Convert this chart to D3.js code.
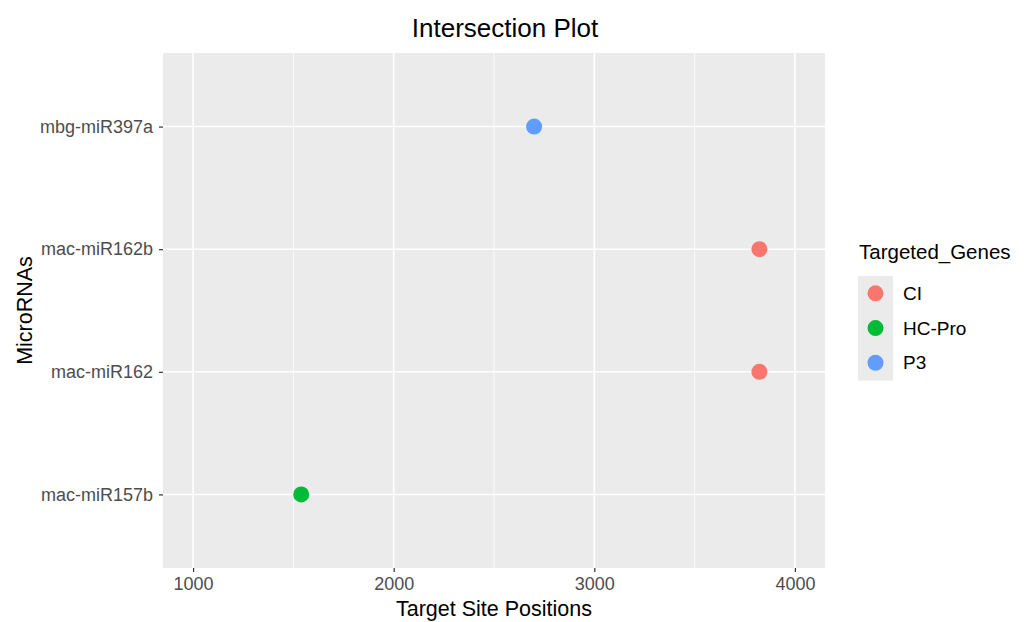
<!DOCTYPE html>
<html>
<head>
<meta charset="utf-8">
<script src="https://cdn.jsdelivr.net/npm/d3@7"></script>
<style>
  body { margin: 0; background: #fff; }
  text { font-family: "Liberation Sans", Arial, sans-serif; }
</style>
</head>
<body>
<svg id="chart" width="1024" height="622"></svg>
<script>
// data
var microRNAs = ["mac-miR157b", "mac-miR162", "mac-miR162b", "mbg-miR397a"];
var positions = [1539, 3823, 3823, 2700];
var genes = ["HC-Pro", "CI", "CI", "P3"];
var geneLevels = ["CI", "HC-Pro", "P3"];
var geneColors = ["#F8766D", "#00BA38", "#619CFF"];
var xTicks = [1000, 2000, 3000, 4000];
var xMinor = [1500, 2500, 3500];

var svg = d3.select("#chart");
var panel = { left: 163, right: 825, top: 53, bottom: 568 };

var x = d3.scaleLinear()
          .domain([850, 4150])
          .range([panel.left, panel.right]);

// discrete axis with ggplot's 0.6 expansion on each side
var y = d3.scaleLinear()
          .domain([1 - 0.6, microRNAs.length + 0.6])
          .range([panel.bottom, panel.top]);

var color = d3.scaleOrdinal().domain(geneLevels).range(geneColors);

var points = microRNAs.map((m, i) => ({ rna: m, pos: positions[i], gene: genes[i], idx: i + 1 }));

//panel background
svg.append("rect")
   .attr("x", panel.left).attr("y", panel.top)
   .attr("width", panel.right - panel.left)
   .attr("height", panel.bottom - panel.top)
   .attr("fill", "#EBEBEB");

//minor grid
svg.append("g").selectAll("line")
   .data(xMinor).enter().append("line")
   .attr("x1", d => x(d)).attr("x2", d => x(d))
   .attr("y1", panel.top).attr("y2", panel.bottom)
   .attr("stroke", "#fff").attr("stroke-width", 0.8);

//major grid
svg.append("g").selectAll("line")
   .data(xTicks).enter().append("line")
   .attr("x1", d => x(d)).attr("x2", d => x(d))
   .attr("y1", panel.top).attr("y2", panel.bottom)
   .attr("stroke", "#fff").attr("stroke-width", 1.6);

svg.append("g").selectAll("line")
   .data(microRNAs).enter().append("line")
   .attr("x1", panel.left).attr("x2", panel.right)
   .attr("y1", (d, i) => y(i + 1)).attr("y2", (d, i) => y(i + 1))
   .attr("stroke", "#fff").attr("stroke-width", 1.6);

//axes
var xAxis = d3.axisBottom(x).tickValues(xTicks).tickSize(4).tickPadding(5).tickFormat(d3.format("d"));
var gx = svg.append("g")
   .attr("transform", "translate(0," + panel.bottom + ")")
   .call(xAxis);
gx.select(".domain").remove();
gx.selectAll("line").attr("stroke", "#333").attr("stroke-width", 1.2);
gx.selectAll("text").attr("fill", "#4D4D4D").style("font-size", "18px");

var yAxis = d3.axisLeft(y).tickValues(microRNAs.map((d, i) => i + 1))
              .tickFormat(d => microRNAs[d - 1]).tickSize(4).tickPadding(6);
var gy = svg.append("g")
   .attr("transform", "translate(" + panel.left + ",0)")
   .call(yAxis);
gy.select(".domain").remove();
gy.selectAll("line").attr("stroke", "#333").attr("stroke-width", 1.2);
gy.selectAll("text").attr("fill", "#4D4D4D").style("font-size", "18px");

//points
svg.append("g").selectAll("circle")
   .data(points).enter().append("circle")
   .attr("cx", d => x(d.pos))
   .attr("cy", d => y(d.idx))
   .attr("r", 8)
   .attr("fill", d => color(d.gene));

//titles
svg.append("text")
   .attr("x", 505).attr("y", 37)
   .attr("text-anchor", "middle")
   .style("font-size", "26px").attr("fill", "#000")
   .text("Intersection Plot");

svg.append("text")
   .attr("x", (panel.left + panel.right) / 2).attr("y", 616)
   .attr("text-anchor", "middle")
   .style("font-size", "21.5px").attr("fill", "#000")
   .text("Target Site Positions");

svg.append("text")
   .attr("transform", "translate(32," + ((panel.top + panel.bottom) / 2) + ") rotate(-90)")
   .attr("text-anchor", "middle")
   .style("font-size", "21.5px").attr("fill", "#000")
   .text("MicroRNAs");

//legend
var legend = svg.append("g").attr("transform", "translate(858,0)");
legend.append("text")
   .attr("x", 1).attr("y", 259)
   .style("font-size", "20.5px").attr("fill", "#000")
   .text("Targeted_Genes");

var keyH = 34.7;
var keys = legend.selectAll(".key")
   .data(geneLevels).enter().append("g")
   .attr("transform", (d, i) => "translate(0," + (276 + i * keyH) + ")");
keys.append("rect")
   .attr("width", 35).attr("height", keyH + 0.5)
   .attr("fill", "#EBEBEB");
keys.append("circle")
   .attr("cx", 17.5).attr("cy", keyH / 2).attr("r", 8)
   .attr("fill", d => color(d));
keys.append("text")
   .attr("x", 45).attr("y", keyH / 2 + 6.5)
   .style("font-size", "19px").attr("fill", "#000")
   .text(d => d);
</script>
</body>
</html>
